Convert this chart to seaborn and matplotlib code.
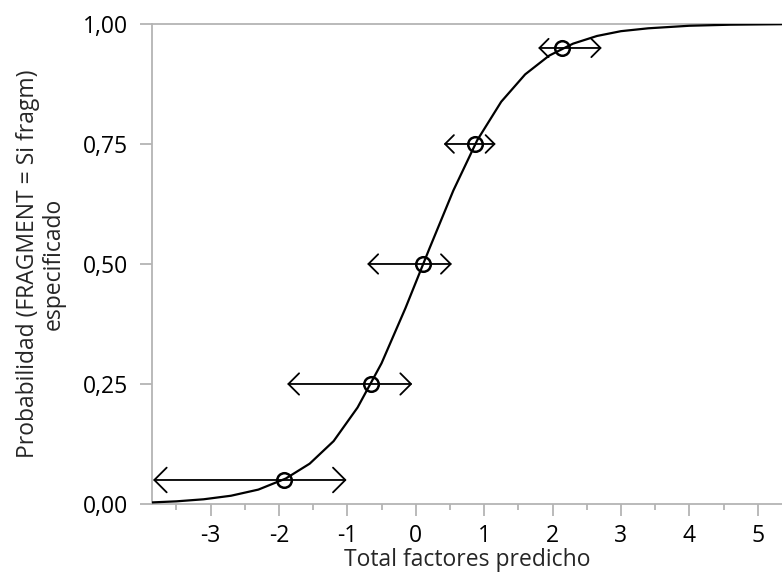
import matplotlib
matplotlib.use("Agg")
import matplotlib.pyplot as plt
import numpy as np
import pandas as pd
import seaborn as sns

# Curve
curve_x = [-3.85, -3.5, -3.1, -2.7, -2.3, -1.9, -1.55, -1.2, -0.85, -0.5, -0.15,
           0.2, 0.55, 0.9, 1.25, 1.6, 1.95, 2.3, 2.65, 3.0, 3.4, 4.0, 4.6, 5.35]
curve_p = [0.0033, 0.0055, 0.0098, 0.0172, 0.030, 0.053, 0.084, 0.131, 0.201, 0.293, 0.408,
           0.532, 0.653, 0.758, 0.838, 0.895, 0.934, 0.959, 0.975, 0.985, 0.991, 0.9963, 0.9985, 0.9995]

# Points with horizontal intervals
point_p = [0.05, 0.25, 0.50, 0.75, 0.95]
point_x = [-1.92, -0.66, 0.10, 0.87, 2.14]
low_x = [-3.84, -1.88, -0.71, 0.41, 1.79]
high_x = [-1.01, -0.05, 0.53, 1.17, 2.72]

x_ticks = [-3, -2, -1, 0, 1, 2, 3, 4, 5]
x_labels = ["-3", "-2", "-1", "0", "1", "2", "3", "4", "5"]
y_ticks = [0.0, 0.25, 0.5, 0.75, 1.0]
y_labels = ["0,00", "0,25", "0,50", "0,75", "1,00"]

sns.set_style("white")
plt.rcParams['font.family'] = ['Open Sans', 'DejaVu Sans']

df_curve = pd.DataFrame({'x': curve_x, 'p': curve_p})
df_pts = pd.DataFrame({'x': point_x, 'p': point_p, 'lo': low_x, 'hi': high_x})

fig = plt.figure(figsize=(7.82, 5.75), dpi=100)
ax = fig.add_axes([0.1944, 0.1235, 0.8056, 0.8348])

sns.lineplot(data=df_curve, x='x', y='p', color='black', linewidth=1.6, ax=ax, zorder=3)

# arrows, head size grows with interval length
for _, r in df_pts.iterrows():
    length = r['hi'] - r['lo']
    s = 0.55 + 0.12 * length
    ax.annotate('', xy=(r['hi'], r['p']), xytext=(r['lo'], r['p']),
                arrowprops=dict(arrowstyle=f'<->,head_length={s:.2f},head_width={s:.2f}',
                                color='black', lw=1.3, shrinkA=0, shrinkB=0),
                zorder=4)

ax.plot(df_pts['x'], df_pts['p'], linestyle='none', marker='o', markersize=10.5,
        markerfacecolor='none', markeredgecolor='black', markeredgewidth=1.8, zorder=5)

ax.set_xlim(-3.855, 5.355)
ax.set_ylim(0, 1)
ax.set_xticks(x_ticks)
ax.set_xticklabels(x_labels)
ax.set_xticks(np.arange(-3.5, 5.5, 1.0), minor=True)
ax.set_yticks(y_ticks)
ax.set_yticklabels(y_labels)

grey = '#b4b4b4'
for side in ['left', 'bottom', 'top']:
    ax.spines[side].set_color(grey)
    ax.spines[side].set_linewidth(1.3)
ax.spines['right'].set_visible(False)

ax.tick_params(axis='both', which='major', length=8.5, width=1.3, color=grey,
               labelsize=16.5, labelcolor='black', direction='out')
ax.tick_params(axis='x', which='minor', length=4, width=1.3, color=grey, direction='out')
ax.tick_params(axis='x', which='major', pad=6)
ax.tick_params(axis='y', which='major', pad=9)
ax.tick_params(left=True, bottom=True, which='both')
ax.tick_params(axis='y', which='minor', left=False)

ax.set_xlabel("Total factores predicho", fontsize=16.5, labelpad=0)
ax.set_ylabel("Probabilidad (FRAGMENT = Si fragm)\nespecificado", fontsize=16.5,
              labelpad=12, linespacing=1.1)

fig.savefig('out.png', dpi=100)
